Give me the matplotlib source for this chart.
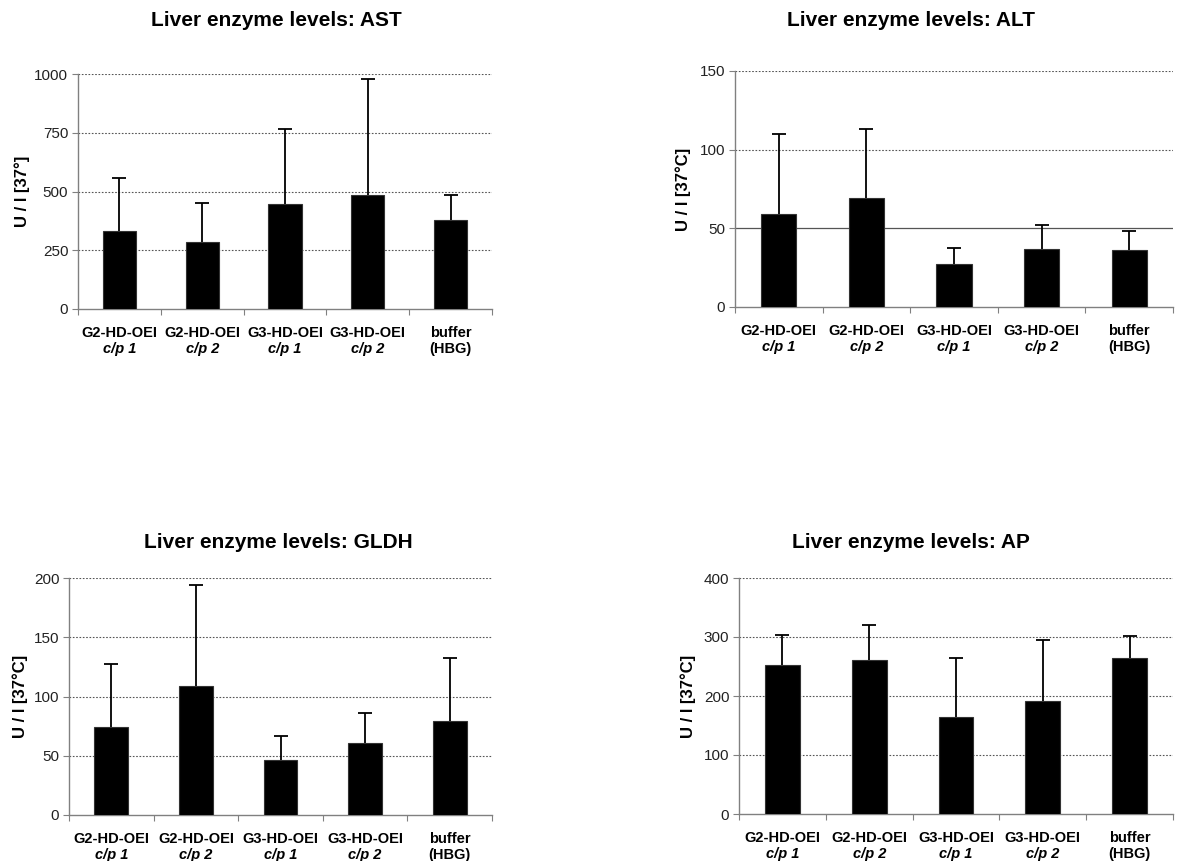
import matplotlib

matplotlib.use("Agg")
import matplotlib.pyplot as plt
import numpy as np

plt.rcParams["font.family"] = ["Liberation Sans", "DejaVu Sans"]

# Group labels, two lines each (second line in italics for the c/p ratio)
GROUP_NAMES = ["G2-HD-OEI", "G2-HD-OEI", "G3-HD-OEI", "G3-HD-OEI", "buffer"]
GROUP_SUBS = ["c/p 1", "c/p 2", "c/p 1", "c/p 2", "(HBG)"]
SUB_ITALIC = [True, True, True, True, False]

# Mean enzyme activity and upper standard deviation per group
ast_mean = [330, 283, 448, 485, 380]
ast_sd = [227, 167, 317, 495, 103]
alt_mean = [59, 69, 27.6, 37, 36]
alt_sd = [51, 44, 9.7, 15.3, 12.4]
gldh_mean = [74, 108.6, 46, 60.8, 79.3]
gldh_sd = [53.7, 85.4, 20.6, 25.2, 53.5]
ap_mean = [253, 260.6, 164.3, 191.5, 265]
ap_sd = [50.7, 60.4, 99.7, 103.1, 36.4]

PANELS = [
    ("AST", ast_mean, ast_sd, [0, 250, 500, 750, 1000], "U / l [37°]"),
    ("ALT", alt_mean, alt_sd, [0, 50, 100, 150], "U / l [37°C]"),
    ("GLDH", gldh_mean, gldh_sd, [0, 50, 100, 150, 200], "U / l [37°C]"),
    ("AP", ap_mean, ap_sd, [0, 100, 200, 300, 400], "U / l [37°C]"),
]

W, H = 1179, 861
# axes boxes in pixels: left, top, right, bottom
BOXES = [
    (78, 74, 492, 309),
    (735, 71, 1173, 307),
    (69, 578, 492, 815),
    (739, 578, 1173, 814),
]
TITLE_POS = [(276, 20), (911, 20), (278, 543), (911, 543)]
YLABEL_X = [22, 683, 20, 688]

fig = plt.figure(figsize=(W / 100, H / 100), dpi=100)
spine_color = "#808080"

for (name, mean, sd, yticks, ylabel), box, tpos, ylx in zip(
    PANELS, BOXES, TITLE_POS, YLABEL_X
):
    left, top, right, bottom = box
    ax = fig.add_axes(
        [left / W, 1 - bottom / H, (right - left) / W, (bottom - top) / H]
    )
    x = np.arange(len(mean))
    ax.bar(x, mean, width=0.4, color="black", edgecolor="#333333", lw=0.8, zorder=3)
    _, caps, _ = ax.errorbar(
        x, mean, yerr=[np.zeros(len(sd)), sd], fmt="none", ecolor="black",
        elinewidth=1.3, capsize=5, capthick=1.3, zorder=4,
    )
    # only the upper whisker gets a cap
    for cap in caps:
        if np.allclose(cap.get_ydata(), mean):
            cap.set_visible(False)

    ax.set_xlim(-0.5, len(mean) - 0.5)
    ax.set_ylim(yticks[0], yticks[-1])
    ax.set_yticks(yticks)
    ax.set_yticklabels([str(t) for t in yticks], fontsize=11, color="#222222")
    for t in yticks[1:]:
        if name == "ALT" and t == 50:
            ax.axhline(t, color="#555555", lw=0.9, zorder=1)
        else:
            ax.axhline(t, color="#555555", lw=0.8, ls=(0, (1.5, 1.5)), zorder=1)

    # category boundaries carry the tick marks, centres carry the labels
    ax.set_xticks(np.arange(len(mean) + 1) - 0.5)
    ax.set_xticklabels([])
    ax.tick_params(axis="x", direction="out", length=4, color=spine_color)
    ax.tick_params(axis="y", direction="out", length=4, color=spine_color, pad=3)
    for i, (g, s, it) in enumerate(zip(GROUP_NAMES, GROUP_SUBS, SUB_ITALIC)):
        ax.annotate(g, xy=(i, 0), xycoords=("data", "axes fraction"),
                    xytext=(0, -17), textcoords="offset points",
                    ha="center", va="center", fontsize=10.5, fontweight="bold")
        ax.annotate(s, xy=(i, 0), xycoords=("data", "axes fraction"),
                    xytext=(0, -29), textcoords="offset points",
                    ha="center", va="center", fontsize=10.5, fontweight="bold",
                    fontstyle="italic" if it else "normal")

    for side in ("top", "right"):
        ax.spines[side].set_visible(False)
    for side in ("left", "bottom"):
        ax.spines[side].set_color(spine_color)
        ax.spines[side].set_linewidth(1.0)

    fig.text(ylx / W, 1 - (top + bottom) / 2 / H, ylabel, rotation=90,
             ha="center", va="center", fontsize=12, fontweight="bold")
    fig.text(tpos[0] / W, 1 - tpos[1] / H, f"Liver enzyme levels: {name}",
             ha="center", va="center", fontsize=15, fontweight="bold")

fig.savefig("out.png", dpi=100, facecolor="white")
